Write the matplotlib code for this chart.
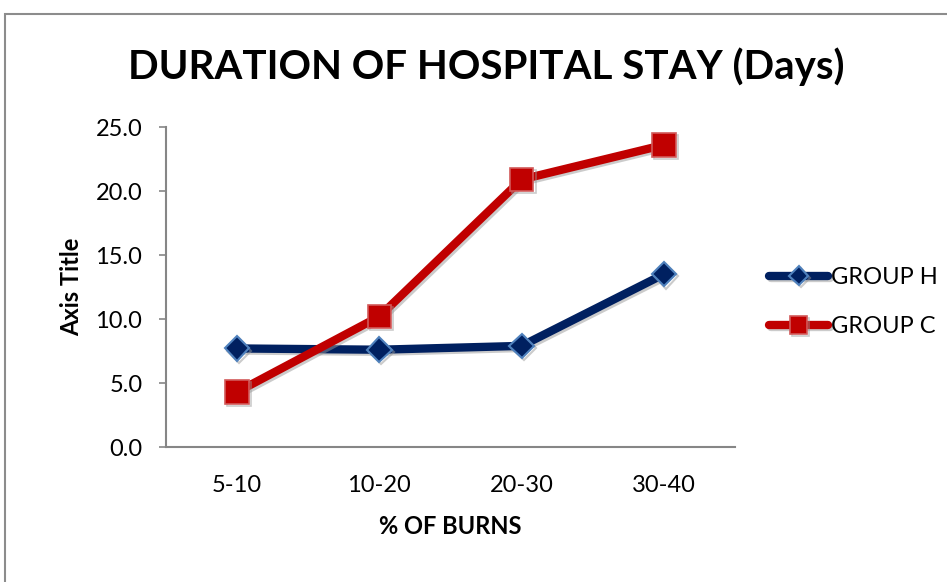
import matplotlib
matplotlib.use("Agg")
import matplotlib.pyplot as plt
from matplotlib.patches import Rectangle
import matplotlib.patheffects as pe

plt.rcParams.update({
    "font.family": ["Lato", "DejaVu Sans"],
    "font.size": 17,
})

burn_ranges = ["5-10", "10-20", "20-30", "30-40"]
group_h = [7.7, 7.6, 7.9, 13.5]
group_c = [4.3, 10.2, 20.9, 23.6]
y_ticks = [0.0, 5.0, 10.0, 15.0, 20.0, 25.0]

NAVY = "#002060"
RED = "#C00000"
AXIS_GRAY = "#868686"

fig = plt.figure(figsize=(9.47, 5.82), dpi=100)
ax = fig.add_axes([166 / 947, 1 - 447 / 582, 569 / 947, 320 / 582])

x = range(len(burn_ranges))
shadow = [pe.SimpleLineShadow(offset=(1.5, -1.5), shadow_color="#999999", alpha=0.5), pe.Normal()]

ax.plot(x, group_h, color=NAVY, linewidth=6, solid_capstyle="round",
        marker="D", markersize=12.5, markerfacecolor=NAVY,
        markeredgecolor="#4F81BD", markeredgewidth=1.5,
        label="GROUP H", path_effects=shadow, zorder=3)
ax.plot(x, group_c, color=RED, linewidth=6, solid_capstyle="round",
        marker="s", markersize=17, markerfacecolor=RED,
        markeredgecolor="#D25A5A", markeredgewidth=1.2,
        label="GROUP C", path_effects=shadow, zorder=4)

ax.set_xlim(-0.5, 3.5)
ax.set_ylim(0, 25)
ax.set_xticks(list(x))
ax.set_xticklabels(burn_ranges)
ax.set_yticks(y_ticks)
ax.set_yticklabels([f"{v:.1f}" for v in y_ticks])

for side in ("top", "right"):
    ax.spines[side].set_visible(False)
for side in ("left", "bottom"):
    ax.spines[side].set_color(AXIS_GRAY)
    ax.spines[side].set_linewidth(1.5)

ax.tick_params(axis="y", direction="out", length=5, width=1.2, color=AXIS_GRAY,
               pad=12, labelsize=17)
ax.tick_params(axis="x", length=0, pad=20, labelsize=17)

ax.set_xlabel("% OF BURNS", fontweight="bold", fontsize=17, labelpad=14)
ax.set_ylabel("Axis Title", fontweight="bold", fontsize=17, labelpad=9)

fig.text(486 / 947, 1 - 67 / 582, "DURATION OF HOSPITAL STAY (Days)",
         ha="center", va="center", fontsize=29, fontweight="bold")

leg = fig.legend(loc="center left", bbox_to_anchor=(769 / 947, 1 - 302 / 582),
                 frameon=False, handlelength=2.5, handletextpad=0.12,
                 labelspacing=1.2, fontsize=17, borderaxespad=0, borderpad=0,
                 markerscale=0.75)

# chart-area border
fig.patches.append(Rectangle((5 / 947, -0.1), 1.2, 1 - 14 / 582 + 0.1,
                             transform=fig.transFigure, fill=False,
                             edgecolor="#8C8C8C", linewidth=1.5))

fig.savefig("out.png", dpi=100)
